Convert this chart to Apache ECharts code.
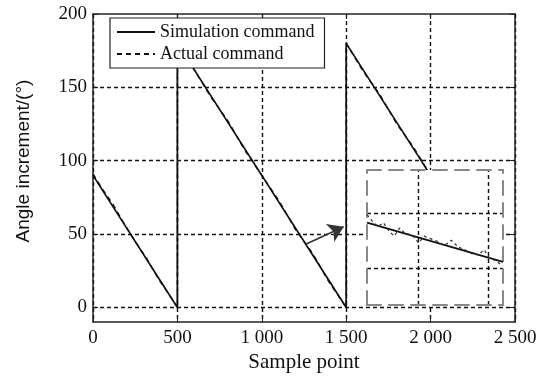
<!DOCTYPE html>
<html>
<head>
<meta charset="utf-8">
<script src="https://cdn.jsdelivr.net/npm/echarts@6/dist/echarts.min.js"></script>
<style>
html, body { margin: 0; padding: 0; background: #fff; }
#chart { width: 540px; height: 378px; }
</style>
</head>
<body>
<div id="chart"></div>
<script>
var xTicks = [0, 500, 1000, 1500, 2000, 2500];
var yTicks = [0, 50, 100, 150, 200];
var yGrid = [0, 50, 100, 150];

// sawtooth, [sample, angle]
var simulation = [[0, 90], [500, 0], [500, 180], [1500, 0], [1500, 180], [2000, 90]];
var actual = [[0, 91], [60, 80], [120, 70], [190, 56], [250, 45], [320, 33], [390, 19], [450, 9], [500, 0],
    [500, 180], [600, 162], [700, 143], [800, 127], [900, 107], [1000, 90], [1100, 73], [1200, 53],
    [1300, 37], [1400, 17], [1500, 0], [1500, 180], [1600, 161], [1700, 145], [1800, 125], [1900, 109], [2000, 90]];

// zoomed detail (inset)
var insetSim = [[0, 61], [100, 32]];
var insetActual = [[0, 67], [4, 62], [8, 58], [12, 61], [16, 55], [20, 51], [24, 57], [28, 53], [33, 52],
    [38, 46], [42, 51], [47, 49], [52, 47], [57, 44], [62, 48], [67, 43], [72, 41], [77, 38], [82, 37],
    [86, 41], [90, 35], [94, 33], [100, 29]];
var insetXGrid = [37.5, 89];
var insetYGrid = [68, 27.5];

var arrow = [[1260, 43], [1485, 55]];

var serif = 'Liberation Serif';
var sans = 'Liberation Sans';
var chart = echarts.init(document.getElementById('chart'));

function fmtX(v) {
    return String(v).replace(/(\d)(\d{3})$/, '$1 $2');
}

var dash = [4, 3];
var frame = { onZero: false, lineStyle: { color: '#222', width: 1.5 } };
var insetLine = { onZero: false, lineStyle: { color: '#888', width: 2, type: [14, 8] } };

var option = {
    animation: false,
    textStyle: { fontFamily: serif },
    grid: [
        { left: 93, right: 25, top: 14, bottom: 55 },
        { left: 367, top: 170, width: 136, height: 135, show: true, backgroundColor: '#fff', borderWidth: 0, z: 10 }
    ],
    legend: {
        left: 110, top: 18,
        orient: 'vertical',
        backgroundColor: '#fff',
        borderColor: '#222', borderWidth: 1.2,
        padding: [5, 10, 5, 6],
        itemGap: 4,
        itemWidth: 38, itemHeight: 12,
        itemStyle: { opacity: 0 },
        textStyle: { fontFamily: serif, fontSize: 18, color: '#111' },
        data: ['Simulation command', 'Actual command']
    },
    xAxis: [
        {
            gridIndex: 0, type: 'value', min: 0, max: 2500, interval: 500,
            name: 'Sample point', nameLocation: 'middle', nameGap: 26,
            nameTextStyle: { fontFamily: serif, fontSize: 21, color: '#111' },
            axisLine: frame,
            axisTick: { inside: true, length: 5, lineStyle: { color: '#222' } },
            axisLabel: { fontFamily: serif, fontSize: 19, color: '#111', margin: 6, formatter: fmtX },
            splitLine: { show: true, lineStyle: { color: '#111', type: dash, width: 1.4 } }
        },
        {
            gridIndex: 0, type: 'value', position: 'top', min: 0, max: 2500, interval: 500,
            axisLine: frame,
            axisTick: { inside: true, length: 5, lineStyle: { color: '#222' } },
            axisLabel: { show: false }, splitLine: { show: false }
        },
        {
            gridIndex: 1, type: 'value', min: 0, max: 100, z: 11,
            axisLine: insetLine,
            axisTick: { show: false }, axisLabel: { show: false }, splitLine: { show: false }
        },
        {
            gridIndex: 1, type: 'value', position: 'top', min: 0, max: 100, z: 11,
            axisLine: insetLine,
            axisTick: { show: false }, axisLabel: { show: false }, splitLine: { show: false }
        }
    ],
    yAxis: [
        {
            gridIndex: 0, type: 'value', min: -10, max: 200,
            name: 'Angle increment/(°)', nameLocation: 'middle', nameGap: 60,
            nameTextStyle: { fontFamily: sans, fontSize: 19, color: '#111', padding: [0, 0, 0, 14] },
            axisLine: frame,
            axisTick: { inside: true, length: 5, customValues: yTicks, lineStyle: { color: '#222' } },
            axisLabel: { fontFamily: serif, fontSize: 19, color: '#111', margin: 6, customValues: yTicks },
            splitLine: { show: false }
        },
        {
            gridIndex: 0, type: 'value', position: 'right', min: -10, max: 200,
            axisLine: frame,
            axisTick: { inside: true, length: 5, customValues: yTicks, lineStyle: { color: '#222' } },
            axisLabel: { show: false }, splitLine: { show: false }
        },
        {
            gridIndex: 1, type: 'value', min: 0, max: 100, z: 11,
            axisLine: insetLine,
            axisTick: { show: false }, axisLabel: { show: false }, splitLine: { show: false }
        },
        {
            gridIndex: 1, type: 'value', position: 'right', min: 0, max: 100, z: 11,
            axisLine: insetLine,
            axisTick: { show: false }, axisLabel: { show: false }, splitLine: { show: false }
        }
    ],
    series: [
        {
            name: 'Simulation command', type: 'line', xAxisIndex: 0, yAxisIndex: 0,
            data: simulation, symbol: 'none',
            lineStyle: { color: '#111', width: 1.7 },
            itemStyle: { color: '#111' },
            markLine: {
                silent: true, symbol: 'none', label: { show: false },
                lineStyle: { color: '#111', type: dash, width: 1.4 },
                data: yGrid.map(function (v) { return { yAxis: v }; })
            }
        },
        {
            name: 'Actual command', type: 'line', xAxisIndex: 0, yAxisIndex: 0,
            data: actual, symbol: 'none',
            lineStyle: { color: '#111', width: 1.4, type: [5, 4] },
            itemStyle: { color: '#111' },
            markLine: {
                silent: true, symbol: ['none', 'arrow'], symbolSize: 15,
                label: { show: false },
                itemStyle: { color: '#111' },
                lineStyle: { color: '#333', type: 'solid', width: 1.6 },
                data: [[{ coord: arrow[0] }, { coord: arrow[1] }]]
            }
        },
        {
            name: 'inset sim', type: 'line', xAxisIndex: 2, yAxisIndex: 2, z: 12,
            data: insetSim, symbol: 'none',
            lineStyle: { color: '#111', width: 1.8 },
            markLine: {
                silent: true, symbol: 'none', label: { show: false }, z: 11,
                lineStyle: { color: '#111', type: dash, width: 1.4 },
                data: insetXGrid.map(function (v) { return { xAxis: v }; })
                    .concat(insetYGrid.map(function (v) { return { yAxis: v }; }))
            }
        },
        {
            name: 'inset actual', type: 'line', xAxisIndex: 2, yAxisIndex: 2, z: 12,
            data: insetActual, symbol: 'none',
            lineStyle: { color: '#333', width: 1.2, type: [3, 3] }
        }
    ]
};
chart.setOption(option);
</script>
</body>
</html>
